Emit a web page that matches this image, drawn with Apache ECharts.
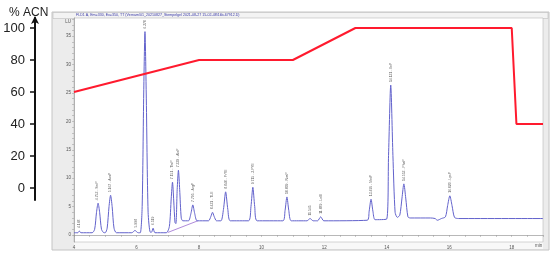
<!DOCTYPE html>
<html>
<head>
<meta charset="utf-8">
<script src="https://cdn.jsdelivr.net/npm/echarts@6/dist/echarts.min.js"></script>
<style>
  html, body { margin: 0; padding: 0; background: #fff; }
  #chart { width: 550px; height: 255px; }
</style>
</head>
<body>
<div id="chart"></div>
<script>
// gradient program (% ACN vs. min)
const gradTime = [4, 8, 11, 13, 18, 18.15, 19];
const gradACN = [60, 80, 80, 100, 100, 40, 40];

// fluorescence trace (LU vs. min)
const traceTime = [
  4.0, 4.12, 4.17, 4.22,
  4.58, 4.66, 4.72, 4.77, 4.82, 4.88, 4.96,
  5.0, 5.06, 5.12, 5.17, 5.22, 5.28, 5.36,
  5.85, 5.95, 6.05,
  6.12, 6.18, 6.23, 6.27, 6.31, 6.37, 6.44,
  6.48, 6.53, 6.59,
  6.95, 7.05, 7.11, 7.15, 7.19, 7.23, 7.26, 7.30, 7.34, 7.38, 7.43, 7.48,
  7.66, 7.74, 7.80, 7.86, 7.94,
  8.30, 8.38, 8.43, 8.48, 8.56,
  8.70, 8.78, 8.85, 8.92, 9.0,
  9.58, 9.66, 9.72, 9.78, 9.86,
  10.68, 10.75, 10.81, 10.87, 10.95,
  11.45, 11.55, 11.65,
  11.79, 11.89, 11.99,
  13.38, 13.44, 13.50, 13.56, 13.63,
  14.0, 14.06, 14.13, 14.20, 14.27, 14.34, 14.42, 14.49, 14.55, 14.61, 14.68, 14.75,
  15.4, 15.55, 15.62, 15.75, 15.88, 15.95, 16.02, 16.09, 16.17, 16.3, 19.0
];
const traceLU = [
  0.4, 0.4, 0.7, 0.4,
  0.4, 1.0, 4.0, 5.6, 4.0, 1.0, 0.4,
  0.4, 1.2, 5.0, 7.0, 5.0, 1.2, 0.4,
  0.4, 0.8, 0.4,
  0.4, 5.0, 25.0, 35.8, 25.0, 4.0, 0.5,
  0.5, 1.2, 0.4,
  0.4, 1.5, 6.5, 9.3, 6.0, 2.2, 2.0, 8.0, 11.4, 8.0, 3.0, 2.5,
  2.5, 3.8, 5.3, 3.8, 2.5,
  2.5, 3.3, 4.0, 3.3, 2.5,
  2.5, 4.5, 7.6, 4.5, 2.5,
  2.5, 5.0, 8.4, 5.0, 2.5,
  2.5, 4.3, 6.7, 4.3, 2.5,
  2.5, 2.9, 2.5,
  2.5, 3.2, 2.5,
  2.6, 4.2, 6.3, 4.2, 2.7,
  2.8, 14.0, 26.4, 14.0, 4.0, 3.1, 3.5, 6.5, 9.0, 6.5, 3.2, 3.0,
  3.0, 2.9, 2.6, 2.9, 3.2, 5.2, 6.9, 5.2, 3.1, 2.9, 2.9
];

// integration baseline under the gradient step
const baseTime = [7.0, 7.96];
const baseLU = [0.45, 2.5];

// peak annotations
const peakTime = [4.168, 4.753, 5.167, 5.998, 6.27, 6.519, 7.151, 7.339, 7.795, 8.431, 8.848,
  9.715, 10.809, 11.545, 11.889, 13.495, 14.131, 14.553, 16.020];
const peakLU = [0.7, 5.6, 7.0, 0.8, 35.8, 1.2, 9.3, 11.4, 5.3, 4.0, 7.6,
  8.4, 6.7, 2.9, 3.2, 6.3, 26.4, 9.0, 6.9];
const peakNames = ['4.168', '4.753 - SerP', '5.167 - AsnP', '5.998', '6.270', '6.519',
  '7.151 - ThrP', '7.339 - AlaP', '7.795 - ArgP', '8.431 - TLE', '8.848 - PrYE',
  '9.715 - 3-FYE', '10.809 - NvaP', '11.545', '11.889 - LeIE', '13.495 - MetP',
  '14.131 - IleP', '14.553 - PheP', '16.020 - LysP'];

// tick labels
const acnTicks = [0, 20, 40, 60, 80, 100];
const luTicks = [0, 5, 10, 15, 20, 25, 30, 35];
const minTicks = [4, 6, 8, 10, 12, 14, 16, 18];

const luMinor = [];
for (let v = 0; v <= 38; v += 1) luMinor.push(v);
const minMinor = [];
for (let v = 4; v <= 19; v += 0.5) minMinor.push(v);

const zip = (a, b) => a.map((x, i) => [x, b[i]]);

const myChart = echarts.init(document.getElementById('chart'));
const tiny = { fontSize: 4.5, color: '#555', fontFamily: 'Liberation Sans' };

const option = {
  animation: false,
  backgroundColor: '#fff',
  title: {
    text: '% ACN',
    left: 4, top: 2,
    textStyle: { fontSize: 12, fontWeight: 'normal', color: '#222', fontFamily: 'Liberation Sans' }
  },
  graphic: [
    { type: 'rect', z: -20, shape: { x: 52, y: 12, width: 497, height: 238 },
      style: { fill: '#ececec', stroke: '#c4c4c4', lineWidth: 1 } },
    { type: 'rect', z: -19, shape: { x: 53, y: 12.5, width: 495, height: 6 },
      style: { fill: '#f3f3f3', stroke: '#bdbdbd', lineWidth: 0.6 } },
    { type: 'rect', z: -19, shape: { x: 74, y: 242, width: 469, height: 7 },
      style: { fill: '#f8f8f8' } },
    { type: 'text', z: -18, left: 76, top: 13.2,
      style: { text: 'FLD1 A, Em=330, Ex=350, TT (Vernam\\01_20210827_Stempelgel 2021-08-27 15-02-48\\1kb-67912.D)',
        fontSize: 3.6, fill: '#3a3aa8', fontFamily: 'Liberation Sans' } }
  ],
  grid: [
    { left: 74, top: 18, width: 469, height: 224, show: true, backgroundColor: '#fff',
      borderColor: '#b8b8b8', borderWidth: 0.6 },
    { left: 35, top: 18, width: 1, height: 182 }
  ],
  xAxis: [
    { type: 'value', gridIndex: 0, min: 4, max: 19,
      name: 'min', nameLocation: 'end', nameGap: -8,
      nameTextStyle: { fontSize: 4.5, color: '#555', verticalAlign: 'top', padding: [8, 0, 0, 0] },
      axisLine: { show: true, lineStyle: { color: '#888', width: 0.6 } },
      axisTick: { show: true, length: 2, customValues: minMinor, lineStyle: { color: '#999', width: 0.5 } },
      axisLabel: Object.assign({ customValues: minTicks, margin: 3 }, tiny),
      splitLine: { show: false } },
    { type: 'value', gridIndex: 1, min: 0, max: 1, show: false }
  ],
  yAxis: [
    { type: 'value', gridIndex: 0, min: -1.23, max: 38.2,
      name: 'LU', nameLocation: 'end', nameGap: -6,
      nameTextStyle: { fontSize: 4.5, color: '#555', align: 'right', padding: [0, 3, 0, 0] },
      axisLine: { show: true, lineStyle: { color: '#888', width: 0.6 } },
      axisTick: { show: true, length: 2, customValues: luMinor, lineStyle: { color: '#999', width: 0.5 } },
      axisLabel: Object.assign({ customValues: luTicks, margin: 3 }, tiny),
      splitLine: { show: false } },
    { type: 'value', gridIndex: 0, min: -33.75, max: 106.25, show: false },
    { type: 'value', gridIndex: 1, min: -7.5, max: 106.25,
      axisLine: { show: true, symbol: ['none', 'arrow'], symbolSize: [6, 8], symbolOffset: [0, 2],
        lineStyle: { color: '#111', width: 2 } },
      axisTick: { show: true, length: 5, inside: false, customValues: acnTicks,
        lineStyle: { color: '#111', width: 1.5 } },
      axisLabel: { customValues: acnTicks, margin: 10, fontSize: 13, color: '#222', fontFamily: 'Liberation Sans' },
      splitLine: { show: false } },
    { type: 'value', gridIndex: 1, min: -7.5, max: 106.25,
      axisLine: { show: false },
      axisTick: { show: true, length: 5, inside: true, customValues: acnTicks,
        lineStyle: { color: '#111', width: 1.5 } },
      axisLabel: { show: false },
      splitLine: { show: false } }
  ],
  series: [
    { name: 'baseline', type: 'line', xAxisIndex: 0, yAxisIndex: 0,
      data: zip(baseTime, baseLU), symbol: 'none',
      lineStyle: { color: '#9a6ccf', width: 0.8 }, z: 3 },
    { name: 'FLD1 A', type: 'line', xAxisIndex: 0, yAxisIndex: 0,
      data: zip(traceTime, traceLU), symbol: 'none', smooth: 0.25, clip: false,
      lineStyle: { color: '#6262cc', width: 1 }, z: 4 },
    { name: 'peaks', type: 'scatter', xAxisIndex: 0, yAxisIndex: 0,
      data: peakTime.map((t, i) => ({ value: [t, peakLU[i]], name: peakNames[i] })),
      symbolSize: 0, silent: true,
      label: { show: true, position: 'top', distance: 3, rotate: 90, align: 'left', verticalAlign: 'middle',
        formatter: p => p.name, fontSize: 3.4, color: '#333', fontFamily: 'Liberation Sans' }, z: 5 },
    { name: '% ACN', type: 'line', xAxisIndex: 0, yAxisIndex: 1,
      data: zip(gradTime, gradACN), symbol: 'none',
      lineStyle: { color: '#ff1a2e', width: 2 }, z: 6 }
  ]
};
myChart.setOption(option);
</script>
</body>
</html>
